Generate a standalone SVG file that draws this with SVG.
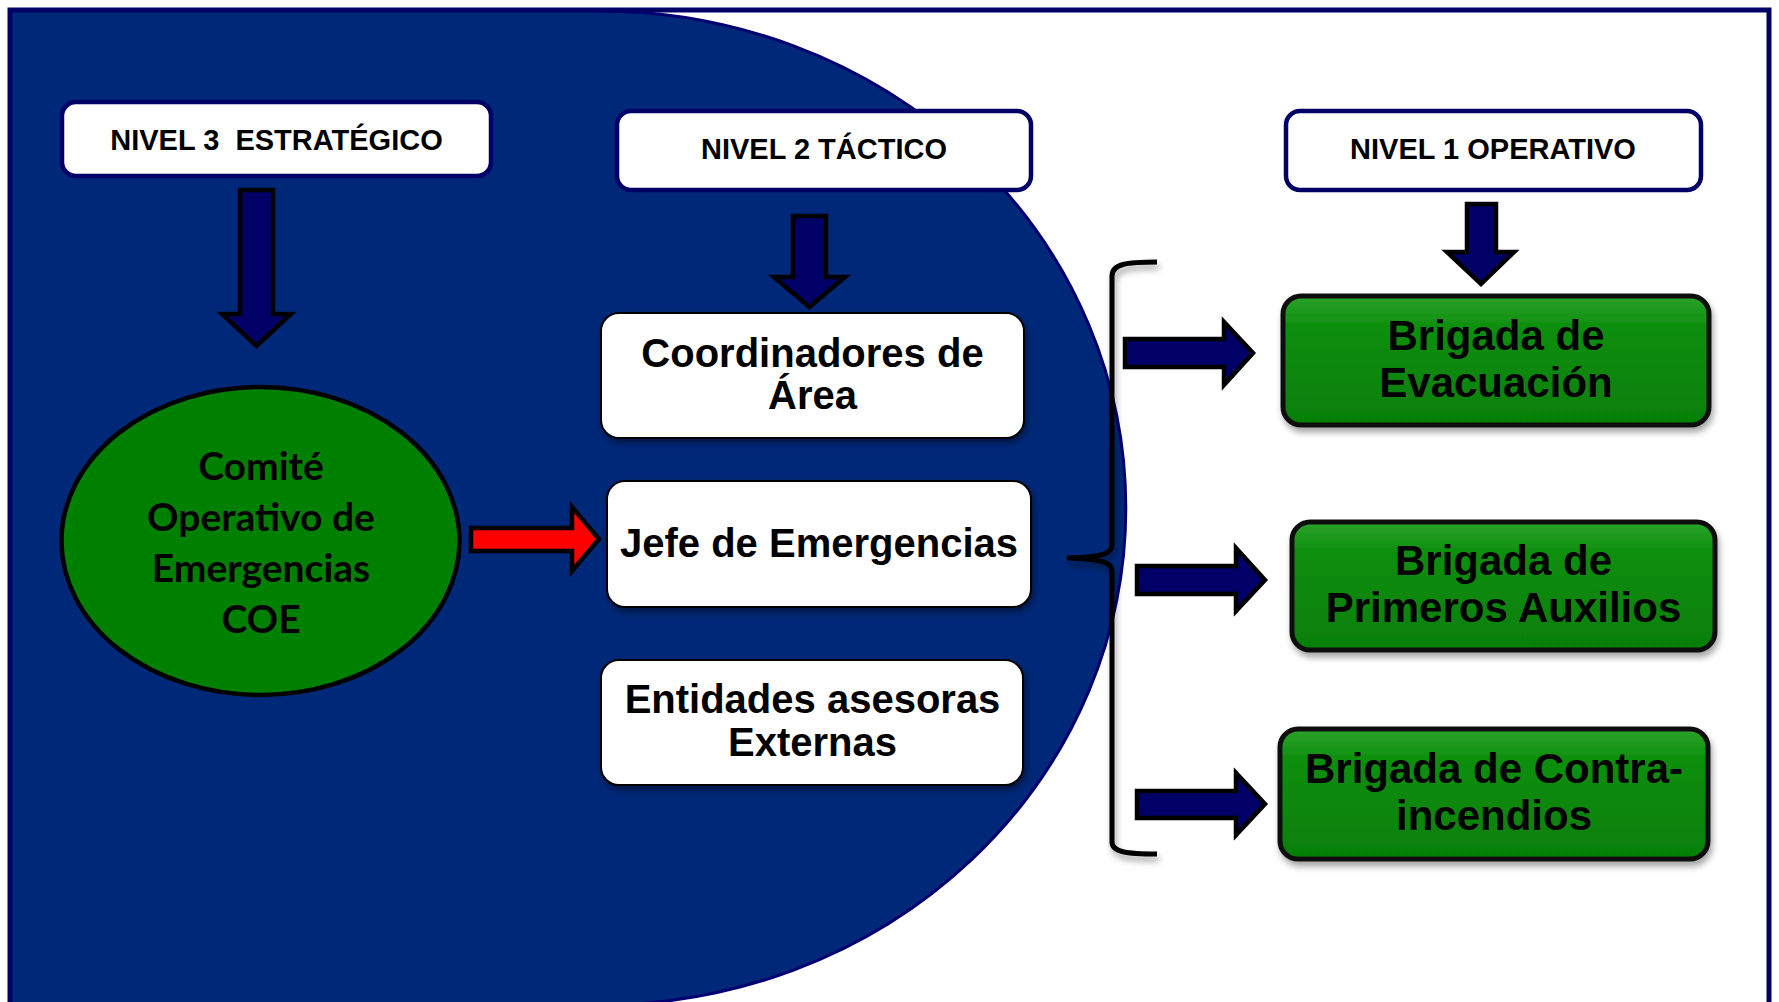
<svg xmlns="http://www.w3.org/2000/svg" width="1779" height="1002" viewBox="0 0 1779 1002">
<defs>
<filter id="sh" x="-10%" y="-10%" width="130%" height="140%">
<feDropShadow dx="2" dy="4" stdDeviation="3" flood-color="#000" flood-opacity="0.45"/>
</filter>
<filter id="shg" x="-20%" y="-10%" width="140%" height="130%">
<feDropShadow dx="2" dy="5" stdDeviation="3" flood-color="#000" flood-opacity="0.35"/>
</filter>
<linearGradient id="gr" x1="0" y1="0" x2="0" y2="1">
<stop offset="0" stop-color="#2aa22a"/>
<stop offset="0.25" stop-color="#0c8e0c"/>
<stop offset="1" stop-color="#067f06"/>
</linearGradient>
</defs>
<style>
.lvl{fill:#fff;stroke:#000066;stroke-width:4.5}
.lvt{font-family:"Liberation Sans",Arial,sans-serif;font-weight:bold;font-size:29px;fill:#000;text-anchor:middle}
.wb{fill:#fff;stroke:#000;stroke-width:2;filter:url(#sh)}
.wt{font-family:"Liberation Sans",Arial,sans-serif;font-weight:bold;font-size:40px;fill:#000;text-anchor:middle}
.gb{fill:url(#gr);stroke:#111;stroke-width:5;filter:url(#shg)}
.gt{font-family:"Liberation Sans",Arial,sans-serif;font-weight:bold;font-size:42px;fill:#000;text-anchor:middle}
.coe{font-family:Lato,"Open Sans",sans-serif;font-weight:bold;font-size:39px;fill:#000;text-anchor:middle}
.na{fill:#000066;stroke:#000;stroke-width:4.5;stroke-linejoin:miter}
.ra{fill:#ff0000;stroke:#000;stroke-width:4.5}
</style>
<rect x="0" y="0" width="1779" height="1002" fill="#fff"/>
<path d="M11,11 H600 A526,497 0 0 1 600,1005 H11 Z" fill="#002878"/>
<path d="M600,11 A526,497 0 0 1 600,1005" fill="none" stroke="#000070" stroke-width="3"/>
<rect x="10" y="10" width="1759" height="1010" fill="none" stroke="#000066" stroke-width="5"/>

<g id="connectors">
<path class="na" d="M240,190 H273 V314 H291 L256.5,346 L222,314 H240 Z"/>
<path class="na" d="M793,216 H826 V277 H845 L809.5,307 L774,277 H793 Z"/>
<path class="na" d="M1467,204 H1496 V252 H1514 L1481,284 L1447,252 H1467 Z"/>
<path class="ra" d="M471,528 H572 V507 L599,539 L572,571 V551 H471 Z"/>
<path class="na" d="M1125,339 H1224 V322 L1253,353 L1224,385 V367 H1125 Z"/>
<path class="na" d="M1137,566 H1236 V548 L1265,580 L1236,611 V594 H1137 Z"/>
<path class="na" d="M1137,791 H1236 V773 L1265,804 L1236,835 V818 H1137 Z"/>
<path d="M1157,262 C1126,262 1112,264 1112,276 L1112,545 C1112,553 1104,557 1067,558 C1104,559 1112,563 1112,571 L1112,842 C1112,852 1126,854 1157,854" fill="none" stroke="#000" stroke-width="5" stroke-linecap="butt" filter="url(#shg)"/>
</g>

<g id="nivel3">
<rect class="lvl" x="62" y="102" width="429" height="74" rx="14"/>
<text class="lvt" x="276.5" y="150" xml:space="preserve">NIVEL 3  ESTRATÉGICO</text>
</g>
<g id="nivel2">
<rect class="lvl" x="617" y="111" width="414" height="79" rx="14"/>
<text class="lvt" x="824" y="159">NIVEL 2 TÁCTICO</text>
</g>
<g id="nivel1">
<rect class="lvl" x="1286" y="111" width="415" height="79" rx="14"/>
<text class="lvt" x="1493" y="159">NIVEL 1 OPERATIVO</text>
</g>

<g id="coe">
<ellipse cx="260.5" cy="541" rx="199" ry="154" fill="#008000" stroke="#000" stroke-width="4.5"/>
<text class="coe" x="261" y="480">Comité</text>
<text class="coe" x="261" y="531">Operativo de</text>
<text class="coe" x="261" y="582">Emergencias</text>
<text class="coe" x="261" y="633">COE</text>
</g>

<g id="coordinadores">
<rect class="wb" x="601" y="313" width="423" height="125" rx="18"/>
<text class="wt" x="812.5" y="367">Coordinadores de</text>
<text class="wt" x="812.5" y="409">Área</text>
</g>
<g id="jefe">
<rect class="wb" x="607" y="481" width="424" height="126" rx="18"/>
<text class="wt" x="819" y="557">Jefe de Emergencias</text>
</g>
<g id="entidades">
<rect class="wb" x="601" y="660" width="422" height="125" rx="18"/>
<text class="wt" x="812.5" y="713">Entidades asesoras</text>
<text class="wt" x="812.5" y="756">Externas</text>
</g>

<g id="evacuacion">
<rect class="gb" x="1283" y="296" width="426" height="129" rx="18"/>
<text class="gt" x="1496" y="350">Brigada de</text>
<text class="gt" x="1496" y="397">Evacuación</text>
</g>
<g id="primeros">
<rect class="gb" x="1292" y="522" width="423" height="128" rx="18"/>
<text class="gt" x="1503.5" y="575">Brigada de</text>
<text class="gt" x="1503.5" y="622">Primeros Auxilios</text>
</g>
<g id="contraincendios">
<rect class="gb" x="1280" y="729" width="428" height="130" rx="18"/>
<text class="gt" x="1494" y="783">Brigada de Contra-</text>
<text class="gt" x="1494" y="830">incendios</text>
</g>
</svg>
